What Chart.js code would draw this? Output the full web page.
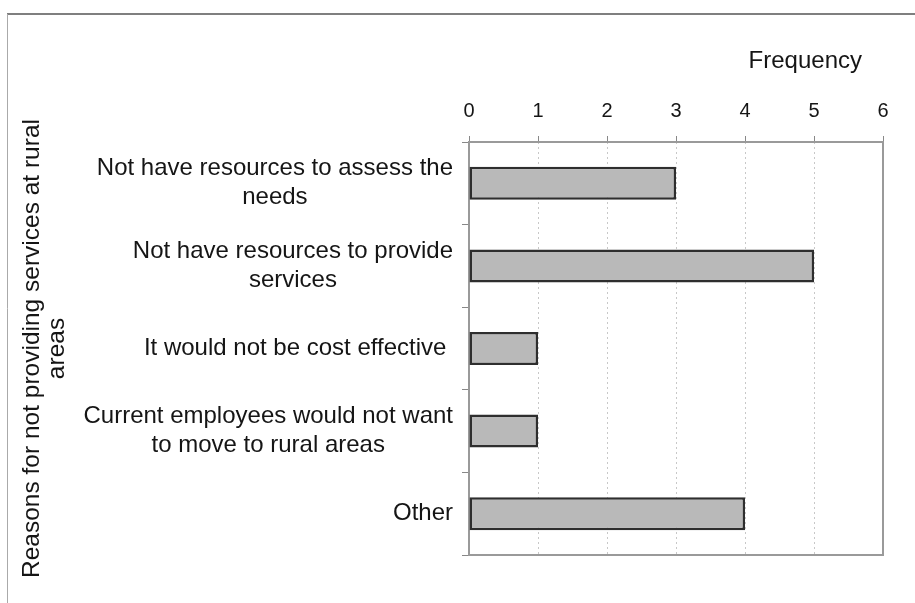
<!DOCTYPE html>
<html>
<head>
<meta charset="utf-8">
<script src="https://cdn.jsdelivr.net/npm/chart.js@4.4.0/dist/chart.umd.min.js"></script>
<style>
  html, body { margin: 0; padding: 0; background: #fff; }
  #wrap { width: 915px; height: 603px; position: relative; }
</style>
</head>
<body>
<div id="wrap"><canvas id="reasonsChart"></canvas></div>
<script>
// categories (multi-line labels) and their counts
const reasons = [
  ['Not have resources to assess the', 'needs'],
  ['Not have resources to provide', 'services'],
  ['It would not be cost effective '],
  ['Current employees would not want', 'to move to rural areas'],
  ['Other']
];
const frequency = [3, 5, 1, 1, 4];
const freqMin = 0;
const freqMax = 6;
const categoryTitle = ['Reasons for not providing services at rural', 'areas'];
const valueTitle = 'Frequency';

const FONT = '"Liberation Sans", Arial, Helvetica, sans-serif';
const TEXT = '#151515';

// page frame, plot box and the hand-centred category labels
const decorations = {
  id: 'decorations',
  beforeDraw(chart) {
    const ctx = chart.ctx;
    ctx.save();
    ctx.strokeStyle = '#555';
    ctx.lineWidth = 1.5;
    ctx.beginPath();
    ctx.moveTo(7, 14);
    ctx.lineTo(chart.width, 14);
    ctx.stroke();
    ctx.strokeStyle = '#aaa';
    ctx.lineWidth = 1;
    ctx.beginPath();
    ctx.moveTo(7.5, 14);
    ctx.lineTo(7.5, chart.height);
    ctx.stroke();
    ctx.restore();
  },
  beforeDatasetsDraw(chart) {
    const a = chart.chartArea;
    const ctx = chart.ctx;
    ctx.save();
    ctx.strokeStyle = '#9a9a9a';
    ctx.lineWidth = 2;
    ctx.strokeRect(a.left, a.top, a.right - a.left, a.bottom - a.top);
    ctx.restore();
  },
  afterDraw(chart) {
    const ctx = chart.ctx;
    const a = chart.chartArea;
    const yScale = chart.scales.y;
    const lineGap = 29;
    ctx.save();
    ctx.font = '24px ' + FONT;
    ctx.fillStyle = TEXT;
    ctx.textBaseline = 'middle';
    ctx.textAlign = 'center';
    reasons.forEach((lines, i) => {
      const y = yScale.getPixelForValue(i);
      const widest = Math.max(...lines.map(l => ctx.measureText(l).width));
      const cx = a.left - 16 - widest / 2;
      const top = y - (lines.length - 1) * lineGap / 2;
      lines.forEach((l, j) => ctx.fillText(l, cx, top + j * lineGap));
    });
    ctx.textAlign = 'right';
    ctx.fillText(valueTitle, a.right - 21, a.top - 81);
    ctx.restore();
  }
};

new Chart(document.getElementById('reasonsChart'), {
  type: 'bar',
  data: {
    labels: reasons,
    datasets: [{
      data: frequency,
      backgroundColor: '#b9b9b9',
      borderColor: '#2e2e2e',
      borderWidth: 2.5,
      borderSkipped: false,
      barPercentage: 0.4,
      categoryPercentage: 1
    }]
  },
  plugins: [decorations],
  options: {
    indexAxis: 'y',
    responsive: true,
    maintainAspectRatio: false,
    animation: false,
    layout: { padding: { left: 8, top: 20, right: 32, bottom: 48 } },
    plugins: {
      legend: { display: false },
      tooltip: { enabled: false }
    },
    scales: {
      x: {
        position: 'top',
        min: freqMin,
        max: freqMax,
        ticks: { stepSize: 1, color: TEXT, font: { size: 20, family: FONT }, padding: 13 },
        grid: { color: '#c8c8c8', tickColor: '#888', tickLength: 6, lineWidth: 1 },
        border: { display: false, dash: [2, 3] },
        afterFit: s => { s.height = 142 - 20; }
      },
      y: {
        ticks: { display: false },
        grid: { drawOnChartArea: false, offset: true, tickLength: 7, tickColor: '#888' },
        border: { display: false },
        title: {
          display: true,
          text: categoryTitle,
          color: TEXT,
          font: { size: 24.5, family: FONT, lineHeight: 1 },
          padding: { top: 12, bottom: 0 }
        },
        afterFit: s => { s.width = 469 - 8; }
      }
    }
  }
});
</script>
</body>
</html>
